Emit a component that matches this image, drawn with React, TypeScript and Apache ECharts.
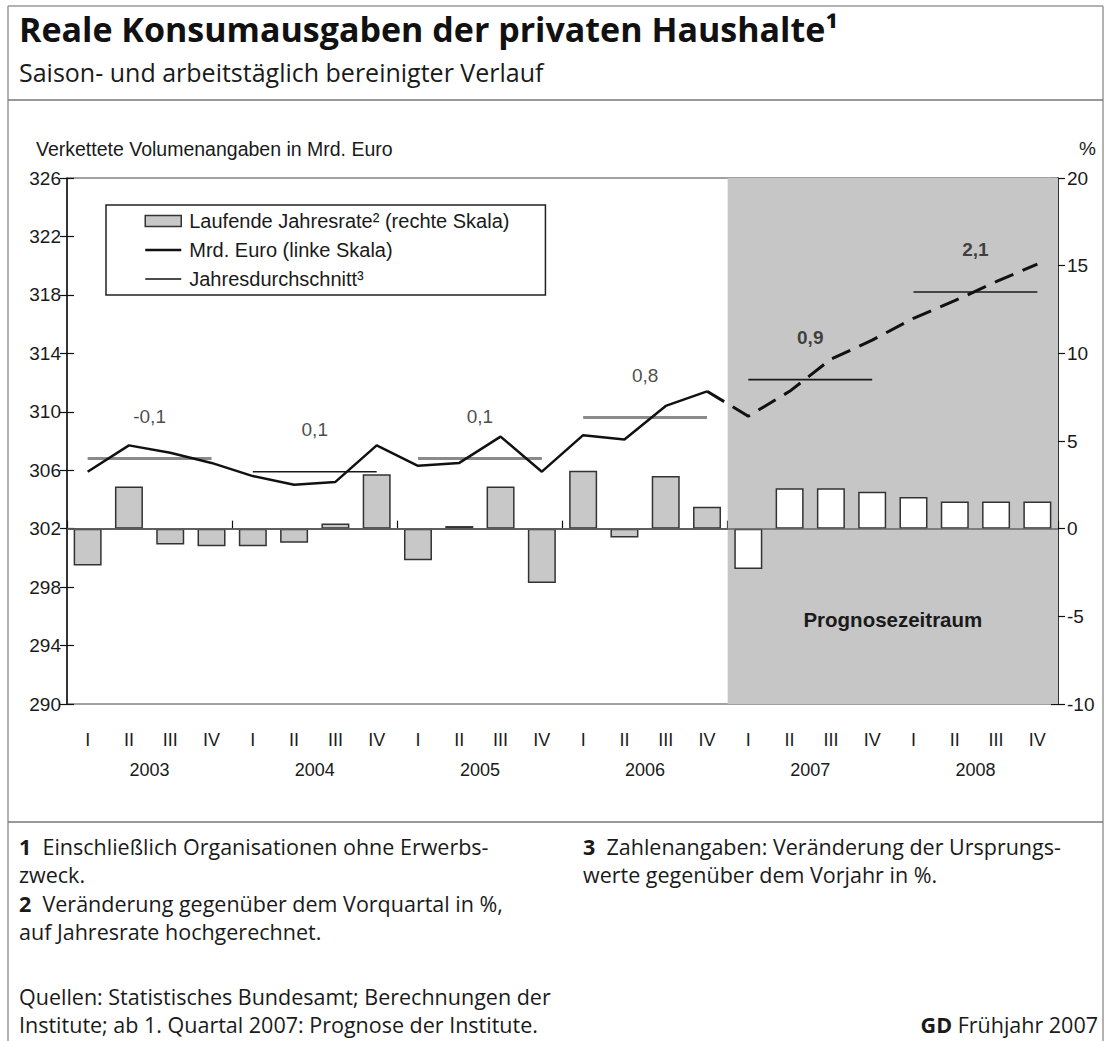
import React, { useEffect, useRef } from "react";
import * as echarts from "echarts";

const quarters = ["I", "II", "III", "IV"];
const years = ["2003", "2004", "2005", "2006", "2007", "2008"];
const categories = years.flatMap((y) => quarters.map((q) => `${y} ${q}`));

// Reale Konsumausgaben, Mrd. Euro (linke Skala)
const consumption = [
  305.9, 307.7, 307.2, 306.5,
  305.6, 305.0, 305.2, 307.7,
  306.3, 306.5, 308.3, 305.9,
  308.4, 308.1, 310.4, 311.4,
  309.7, 311.4, 313.6, 314.9,
  316.4, 317.6, 318.9, 320.1,
];

// Laufende Jahresrate in % (rechte Skala)
const annualRate = [
  -2.1, 2.4, -0.9, -1.0,
  -1.0, -0.8, 0.3, 3.1,
  -1.8, 0.15, 2.4, -3.1,
  3.3, -0.5, 3.0, 1.25,
  -2.3, 2.3, 2.3, 2.1,
  1.8, 1.55, 1.55, 1.55,
];

// Jahresdurchschnitt, Mrd. Euro
const annualAverage = [306.8, 305.9, 306.8, 309.6, 312.2, 318.2];
// Veränderung gegenüber dem Vorjahr in %
const annualChange = ["-0,1", "0,1", "0,1", "0,8", "0,9", "2,1"];

const forecastStartIndex = 16; // 2007 I

const leftTicks = { min: 290, max: 326, step: 4 };
const rightTicks = { min: -10, max: 20, step: 5 };

const FONT = "'Liberation Sans', Arial, sans-serif";
const HEAD = "'Open Sans', 'Noto Sans', sans-serif";
const NOTE = "'Open Sans', 'Noto Sans', sans-serif";
const NOTE_SIZE = 21.5;

export default function App() {
  const ref = useRef<HTMLDivElement>(null);

  useEffect(() => {
    document.body.style.margin = "0";
    const chart = echarts.init(ref.current!, null, { renderer: "svg" });

    const avgColors = ["#8a8a8a", "#1a1a1a", "#8a8a8a", "#8a8a8a", "#1a1a1a", "#1a1a1a"];
    const avgWidths = [3, 1.6, 3, 3, 1.6, 1.6];

    const avgSeries = annualAverage.map((v, i) => ({
      name: "Jahresdurchschnitt³",
      type: "line",
      xAxisIndex: 1,
      yAxisIndex: 0,
      symbol: "none",
      z: 4,
      lineStyle: { color: avgColors[i], width: avgWidths[i] },
      itemStyle: { color: avgColors[i] },
      data: [
        [i * 4 + 0.5, v],
        [i * 4 + 3.5, v],
      ],
    }));

    const noteLine = (text: string, x: number, y: number) => ({
      type: "text",
      left: x,
      top: y,
      style: {
        text,
        font: `${NOTE_SIZE}px ${NOTE}`,
        fill: "#1a1a1a",
        rich: {
          b: { fontFamily: NOTE, fontSize: NOTE_SIZE, fontWeight: "bold", fill: "#1a1a1a" },
        },
      },
    });

    const option: any = {
      animation: false,
      backgroundColor: "#fff",
      textStyle: { fontFamily: FONT },
      grid: {
        left: 67,
        right: 47,
        top: 178,
        bottom: 337,
        show: true,
        borderColor: "#444",
        borderWidth: 1,
        backgroundColor: "transparent",
      },
      legend: {
        orient: "vertical",
        left: 106,
        top: 205,
        padding: [6, 36, 6, 38],
        itemGap: 9,
        itemWidth: 36,
        itemHeight: 11,
        borderColor: "#222",
        borderWidth: 1.5,
        backgroundColor: "#fff",
        z: 20,
        textStyle: { fontFamily: FONT, fontSize: 20, color: "#1a1a1a", padding: [0, 0, 0, 3] },
        data: [
          {
            name: "Laufende Jahresrate² (rechte Skala)",
            icon: "rect",
            itemStyle: { color: "#c8c8c8", borderColor: "#333", borderWidth: 1.5 },
          },
          {
            name: "Mrd. Euro (linke Skala)",
            lineStyle: { color: "#111", width: 2.5 },
            itemStyle: { opacity: 0 },
          },
          {
            name: "Jahresdurchschnitt³",
            lineStyle: { color: "#111", width: 1.5 },
            itemStyle: { opacity: 0 },
          },
        ],
      },
      xAxis: [
        {
          type: "category",
          data: categories,
          position: "bottom",
          boundaryGap: true,
          axisLine: { lineStyle: { color: "#111", width: 1.5 } },
          axisTick: { interval: 3, length: 8, lineStyle: { color: "#111", width: 1.2 } },
          axisLabel: {
            interval: 0,
            margin: 27,
            fontSize: 18,
            color: "#1a1a1a",
            fontFamily: FONT,
            formatter: (v: string) => v.split(" ")[1],
          },
          splitLine: { show: false },
        },
        {
          type: "value",
          min: 0,
          max: 24,
          interval: 4,
          position: "bottom",
          axisLine: { show: false },
          axisTick: { show: true, inside: true, length: 8, lineStyle: { color: "#111", width: 1.2 } },
          axisLabel: { show: false },
          splitLine: { show: false },
        },
        {
          type: "category",
          data: years,
          position: "bottom",
          axisLine: { show: false },
          axisTick: { show: false },
          axisLabel: { margin: 57, fontSize: 18, color: "#1a1a1a", fontFamily: FONT },
          splitLine: { show: false },
        },
      ],
      yAxis: [
        {
          type: "value",
          position: "left",
          min: leftTicks.min,
          max: leftTicks.max,
          interval: leftTicks.step,
          axisLine: { show: true, lineStyle: { color: "#111", width: 1.5 } },
          axisTick: { show: true, length: 7, lineStyle: { color: "#111", width: 1.2 } },
          axisLabel: { fontSize: 19, color: "#1a1a1a", margin: 6, fontFamily: FONT },
          splitLine: { show: false },
        },
        {
          type: "value",
          position: "right",
          min: rightTicks.min,
          max: rightTicks.max,
          interval: rightTicks.step,
          axisLine: { show: true, lineStyle: { color: "#111", width: 1.5 } },
          axisTick: { show: true, length: 7, lineStyle: { color: "#111", width: 1.2 } },
          axisLabel: { fontSize: 19, color: "#1a1a1a", margin: 9, fontFamily: FONT },
          splitLine: { show: false },
        },
        {
          type: "value",
          position: "left",
          min: leftTicks.min,
          max: leftTicks.max,
          interval: leftTicks.step,
          axisLine: { show: false },
          axisTick: { show: true, inside: true, length: 7, lineStyle: { color: "#111", width: 1.2 } },
          axisLabel: { show: false },
          splitLine: { show: false },
        },
        {
          type: "value",
          position: "right",
          min: rightTicks.min,
          max: rightTicks.max,
          interval: rightTicks.step,
          axisLine: { show: false },
          axisTick: { show: true, inside: true, length: 7, lineStyle: { color: "#111", width: 1.2 } },
          axisLabel: { show: false },
          splitLine: { show: false },
        },
      ],
      series: [
        {
          name: "Prognosezeitraum",
          type: "line",
          xAxisIndex: 1,
          yAxisIndex: 0,
          symbol: "none",
          z: 1,
          lineStyle: { opacity: 0 },
          data: [[forecastStartIndex, leftTicks.min]],
          markArea: {
            silent: true,
            itemStyle: { color: "#c6c6c6" },
            label: {
              show: true,
              position: ["50%", "84%"],
              align: "center",
              verticalAlign: "middle",
              fontFamily: FONT,
              fontSize: 20.5,
              fontWeight: "bold",
              color: "#1a1a1a",
            },
            data: [[{ name: "Prognosezeitraum", xAxis: forecastStartIndex }, { xAxis: categories.length }]],
          },
        },
        {
          name: "Laufende Jahresrate² (rechte Skala)",
          type: "bar",
          xAxisIndex: 0,
          yAxisIndex: 1,
          barWidth: 28,
          z: 3,
          itemStyle: { color: "#c8c8c8", borderColor: "#333", borderWidth: 1.5 },
          data: annualRate.map((v, i) => ({
            value: v,
            itemStyle: { color: i >= forecastStartIndex ? "#ffffff" : "#c8c8c8", borderColor: "#333", borderWidth: 1.5 },
          })),
          markLine: {
            silent: true,
            symbol: "none",
            label: { show: false },
            lineStyle: { color: "#666", width: 1.5, type: "solid" },
            data: [{ yAxis: 0 }],
          },
        },
        {
          name: "Mrd. Euro (linke Skala)",
          type: "line",
          xAxisIndex: 0,
          yAxisIndex: 0,
          symbol: "none",
          z: 5,
          lineStyle: { color: "#111", width: 2.5 },
          itemStyle: { color: "#111" },
          data: consumption.map((v, i) => (i < forecastStartIndex ? v : "-")),
        },
        {
          name: "Mrd. Euro Prognose",
          type: "line",
          xAxisIndex: 0,
          yAxisIndex: 0,
          symbol: "none",
          z: 5,
          lineStyle: { color: "#111", width: 3, type: [20, 10] },
          itemStyle: { color: "#111" },
          data: consumption.map((v, i) => (i >= forecastStartIndex - 1 ? v : "-")),
        },
        ...avgSeries,
        {
          name: "Veränderung",
          type: "scatter",
          xAxisIndex: 1,
          yAxisIndex: 0,
          symbolSize: 0,
          z: 6,
          silent: true,
          data: annualAverage.map((v, i) => ({
            value: [i * 4 + 2, v],
            label: {
              show: true,
              position: "inside",
              offset: [0, -42],
              formatter: annualChange[i],
              fontFamily: FONT,
              fontSize: 19,
              fontWeight: i >= forecastStartIndex / 4 ? "bold" : "normal",
              color: "#1a1a1a",
            },
          })),
        },
      ],
      graphic: [
        { type: "line", shape: { x1: 8, y1: 6, x2: 1103, y2: 6 }, style: { stroke: "#999", lineWidth: 1.5 } },
        { type: "line", shape: { x1: 8, y1: 6, x2: 8, y2: 1041 }, style: { stroke: "#999", lineWidth: 1.5 } },
        { type: "line", shape: { x1: 1103, y1: 6, x2: 1103, y2: 1041 }, style: { stroke: "#999", lineWidth: 1.5 } },
        { type: "line", shape: { x1: 8, y1: 100, x2: 1103, y2: 100 }, style: { stroke: "#777", lineWidth: 1.5 } },
        { type: "line", shape: { x1: 8, y1: 822, x2: 1103, y2: 822 }, style: { stroke: "#777", lineWidth: 1.5 } },
        {
          type: "text",
          left: 19,
          top: 12,
          style: { text: "Reale Konsumausgaben der privaten Haushalte¹", font: `bold 34px ${HEAD}`, fill: "#111" },
        },
        {
          type: "text",
          left: 19,
          top: 59,
          style: { text: "Saison- und arbeitstäglich bereinigter Verlauf", font: `25px ${NOTE}`, fill: "#1a1a1a" },
        },
        {
          type: "text",
          left: 36,
          top: 139,
          style: { text: "Verkettete Volumenangaben in Mrd. Euro", font: `19.5px ${FONT}`, fill: "#1a1a1a" },
        },
        {
          type: "text",
          left: 1079,
          top: 139,
          style: { text: "%", font: `19px ${FONT}`, fill: "#1a1a1a" },
        },
        noteLine("{b|1}  Einschließlich Organisationen ohne Erwerbs-", 19, 835),
        noteLine("zweck.", 19, 863),
        noteLine("{b|2}  Veränderung gegenüber dem Vorquartal in %,", 19, 892),
        noteLine("auf Jahresrate hochgerechnet.", 19, 920),
        noteLine("{b|3}  Zahlenangaben: Veränderung der Ursprungs-", 583, 835),
        noteLine("werte gegenüber dem Vorjahr in %.", 583, 863),
        noteLine("Quellen: Statistisches Bundesamt; Berechnungen der", 19, 985),
        noteLine("Institute; ab 1. Quartal 2007: Prognose der Institute.", 19, 1013),
        {
          type: "text",
          right: 7,
          top: 1013,
          style: {
            text: "{b|GD} Frühjahr 2007",
            font: `${NOTE_SIZE}px ${NOTE}`,
            fill: "#1a1a1a",
            rich: { b: { fontFamily: NOTE, fontSize: NOTE_SIZE, fontWeight: "bold", fill: "#1a1a1a" } },
          },
        },
      ],
    };

    chart.setOption(option);
    return () => chart.dispose();
  }, []);

  return <div ref={ref} style={{ width: 1105, height: 1041 }} />;
}
